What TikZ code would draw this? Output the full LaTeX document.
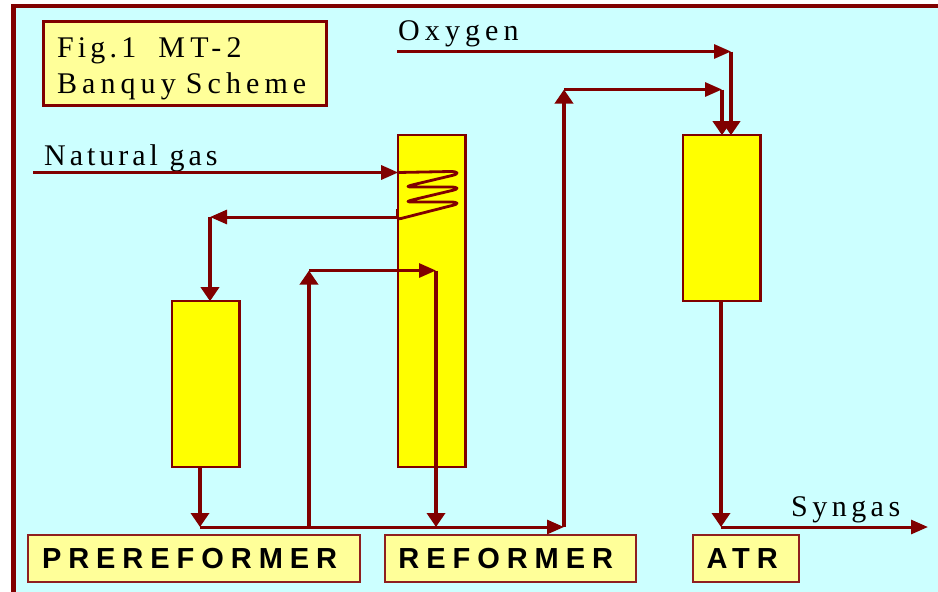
\documentclass[tikz,border=0pt]{standalone}
\usepackage{fontspec}
\setmainfont{Liberation Serif}
\newfontfamily\serifspaced{Liberation Serif}
\newfontfamily\boldspaced[LetterSpace=24]{Liberation Sans Bold}
\newcommand{\spaced}[1]{\addfontfeature{LetterSpace=#1}}
\usetikzlibrary{arrows.meta}
\definecolor{flowred}{HTML}{800000}
\definecolor{skyfill}{HTML}{CCFFFF}
\definecolor{palefill}{HTML}{FFFF99}
\definecolor{edgered}{HTML}{8F1F1F}
\definecolor{purefill}{RGB}{255,255,0}
\tikzset{
  column/.style={draw=flowred,line width=2.4pt,fill=purefill,inner sep=0pt,outer sep=0pt,anchor=north west},
  labelbox/.style={draw=edgered,line width=2pt,fill=palefill,inner sep=0pt,outer sep=0pt,anchor=north west,minimum height=47pt,align=left,
     font={\boldspaced\fontsize{29}{30}\selectfont}},
  titlebox/.style={draw=flowred,line width=3pt,fill=palefill,inner sep=0pt,outer sep=0pt,anchor=north west,minimum width=283pt,minimum height=84pt,align=left,text width=256pt,
     font={\serifspaced\fontsize{30}{36}\selectfont}},
  streamlabel/.style={anchor=base west,inner sep=0pt,font={\serifspaced\fontsize{30}{36}\selectfont}},
  hflow/.style={flowred,line width=3pt,-{Triangle[length=17pt,width=14pt]}},
  vflow/.style={flowred,line width=4pt,-{Triangle[length=14pt,width=18pt]}},
  coil/.style={flowred,line width=2.8pt,line join=round},
}
\begin{document}
\begin{tikzpicture}[x=1pt,y=-1pt]
\useasboundingbox (0,0) rectangle (938,592);
\fill[white] (0,0) rectangle (938,592);
\fill[flowred] (11.3,4) rectangle (938,592);
\fill[skyfill] (16,8) rectangle (938,592);

% boxes
\node[titlebox] (title) at (43.5,21.5) {\rule{0pt}{31pt}{\spaced{14}Fig.1}\hspace{22pt}{\spaced{18}MT-2}\\{\spaced{17}Banquy Scheme}};
\node[column,minimum width=67.2pt,minimum height=331.6pt] (reformer) at (398.2,135.2) {};
\node[column,minimum width=67.2pt,minimum height=165.6pt] (pre) at (172.2,301.2) {};
\node[column,minimum width=77.2pt,minimum height=165.6pt] (atr) at (683.2,135.2) {};
\node[labelbox,minimum width=332pt,text width=304pt] (prelabel) at (28,535.3) {PREREFORMER};
\node[labelbox,minimum width=251pt,text width=223.6pt] (reflabel) at (384.7,535.3) {REFORMER};
\node[labelbox,minimum width=106.6pt,text width=79pt] (atrlabel) at (692.7,535.3) {ATR};

% stream labels
\node[streamlabel] (oxygenlabel) at (398,40) {\spaced{17}Oxygen};
\node[streamlabel] (gaslabel) at (44,165) {\spaced{13.3}Natural gas};
\node[streamlabel] (syngaslabel) at (791,516) {\spaced{14.9}Syngas};

% junctions and free ends
\coordinate (gasin) at (33,172.5);
\coordinate (coilin) at (reformer.west |- gasin);
\coordinate (coilout) at (397,217);
\coordinate (toPre) at (210,217);
\coordinate (bus) at (200,527);
\coordinate (busup) at (309,527);
\coordinate (top) at (309,270.5);
\coordinate (topdown) at (436,270.5);
\coordinate (busdown) at (436,527);
\coordinate (busend) at (564,527);
\coordinate (riser) at (564,89.5);
\coordinate (riserend) at (722,89.5);
\coordinate (oxin) at (397,51.5);
\coordinate (oxend) at (731,51.5);
\coordinate (atrbottom) at (721,527);
\coordinate (synout) at (928,527);

% connectors
\draw[hflow] (gasin) -- (coilin);
\draw[hflow] (coilout) -- (toPre);
\draw[vflow] (toPre) -- (toPre |- pre.north);
\draw[vflow] (bus |- pre.south) -- (bus);
\draw[hflow] (bus) -- (busend);
\draw[vflow] (busup) -- (top);
\draw[hflow] (top) -- (topdown);
\draw[vflow] (topdown) -- (busdown);
\draw[vflow] (busend) -- (riser);
\draw[hflow] (riser) -- (riserend);
\draw[vflow] (riserend) -- (riserend |- atr.north);
\draw[hflow] (oxin) -- (oxend);
\draw[vflow] (oxend) -- (oxend |- atr.north);
\draw[vflow] (atrbottom |- atr.south) -- (atrbottom);
\draw[hflow] (atrbottom) -- (synout);

% heating coil
\draw[coil] (coilin) -- (450,171.5) .. controls (459,171.5) and (459,174) .. (452,175.5)
  -- (414,184.5) .. controls (406,186.5) and (406,187) .. (414,187)
  -- (450,187) .. controls (459,187) and (459,189) .. (452,190.5)
  -- (414,199.5) .. controls (406,201.5) and (406,202) .. (414,202)
  -- (450,202) .. controls (459,202) and (459,204) .. (452,205.5)
  -- (401,218.5) .. controls (398,219.3) and (397,218) .. (397,216);
\draw[flowred,line width=3pt] (397,209) -- (coilout);
\end{tikzpicture}
\end{document}
